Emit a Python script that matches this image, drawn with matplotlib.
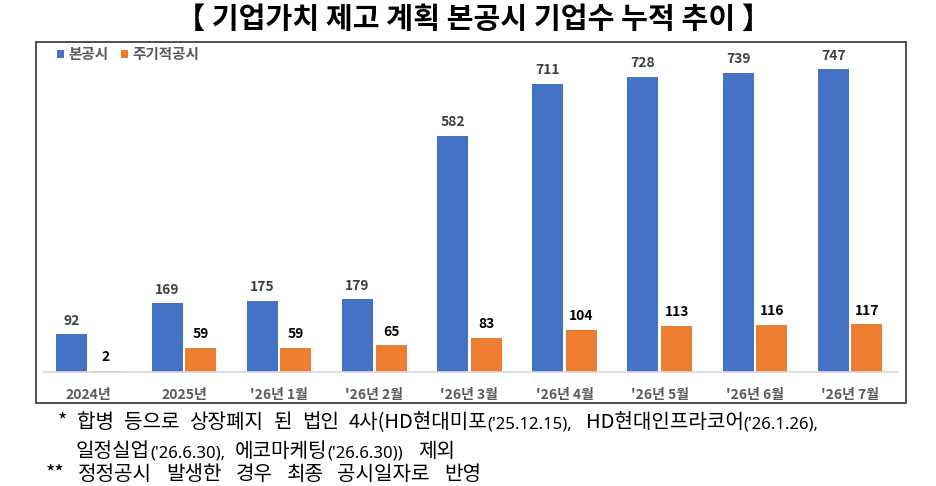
import matplotlib
matplotlib.use("Agg")
import matplotlib.pyplot as plt
from matplotlib.patches import Rectangle, Patch
import numpy as np

categories = ["2024년", "2025년", "'26년 1월", "'26년 2월", "'26년 3월",
              "'26년 4월", "'26년 5월", "'26년 6월", "'26년 7월"]
main_disclosure = [92, 169, 175, 179, 582, 711, 728, 739, 747]
periodic_disclosure = [2, 59, 59, 65, 83, 104, 113, 116, 117]
series_names = ["본공시", "주기적공시"]
title = "【 기업가치 제고 계획 본공시 기업수 누적 추이 】"

FONT = ["Noto Sans CJK KR", "DejaVu Sans"]
LATIN = ["Noto Sans", "Noto Sans CJK KR", "DejaVu Sans"]
plt.rcParams["font.family"] = FONT

W, H = 936, 486
fig = plt.figure(figsize=(W / 100, H / 100), dpi=100)
fig.patch.set_facecolor("white")

# border box
fig.patches.append(Rectangle((35.7 / W, 1 - 402.7 / H), (906 - 35.7) / W, (402.7 - 42) / H,
                             transform=fig.transFigure, fill=False,
                             edgecolor="#404040", lw=1.3, zorder=0))

ax = fig.add_axes([44 / W, 1 - 371.7 / H, (897.7 - 44) / W, (371.7 - 45) / H])
x = np.arange(len(categories))
bw = 0.325
off = 0.177
c_blue = "#4472C4"
c_orange = "#ED7D31"
ax.bar(x - off, main_disclosure, bw, color=c_blue, zorder=2)
ax.bar(x + off, periodic_disclosure, bw, color=c_orange, zorder=2)
ax.set_xlim(-0.47, 8.5)
ax.set_ylim(0, 807)
for s in ["top", "left", "right"]:
    ax.spines[s].set_visible(False)
ax.spines["bottom"].set_color("#D9D9D9")
ax.spines["bottom"].set_linewidth(1.2)
ax.set_yticks([])
ax.set_xticks(x)
ax.set_xticklabels(categories, fontsize=10, fontweight="bold", color="#595959")
ax.tick_params(axis="x", length=0, pad=12)

for xi, v in zip(x, main_disclosure):
    ax.annotate(str(v), (xi - off, v), xytext=(0, 7), textcoords="offset points",
                ha="center", va="baseline", fontsize=10, fontweight="bold", color="#404040")
for xi, v in zip(x, periodic_disclosure):
    ax.annotate(str(v), (xi + off, v), xytext=(0, 7), textcoords="offset points",
                ha="center", va="baseline", fontsize=10, fontweight="bold", color="#000000")

handles = [Patch(facecolor=c_blue), Patch(facecolor=c_orange)]
leg = fig.legend(handles, series_names, loc="center left",
                 bbox_to_anchor=(44 / W, 1 - 54 / H), ncol=2, frameon=False,
                 handlelength=0.45, handleheight=0.45, handletextpad=0.3, columnspacing=0.9,
                 prop={"family": FONT, "size": 10.5, "weight": "bold"})
for t in leg.get_texts():
    t.set_color("#595959")

fig.text(473 / W, 1 - 19 / H, title, ha="center", va="center",
         fontsize=21, fontweight="bold", color="black")

renderer = fig.canvas.get_renderer()
KS = 14.5   # Korean footnote size
PS = 12     # parenthetical size


def put(items, ybase, gap):
    """items: (x, text, small, extra_gap). x=None => after previous + gap*extra_gap."""
    xx = 0
    for xpos, txt, small, k in items:
        if xpos is not None:
            xx = xpos
        else:
            xx += gap * k
        t = fig.text(xx / W, 1 - ybase / H, txt, fontsize=PS if small else KS,
                     family=LATIN if small else FONT,
                     va="baseline", ha="left", color="black")
        xx = t.get_window_extent(renderer).x1


put([(58, "*", False, 0), (77, "합병", False, 0), (None, "등으로", False, 1),
     (None, "상장폐지", False, 1), (None, "된", False, 1), (None, "법인", False, 1),
     (None, "4사(HD현대미포", False, 1), (None, "('25.12.15),", True, 0),
     (None, "HD현대인프라코어", False, 1.3), (None, "('26.1.26),", True, 0)], 428, 10)
put([(76, "일정실업", False, 0), (None, "('26.6.30),", True, 0),
     (None, "에코마케팅", False, 1), (None, "('26.6.30))", True, 0),
     (None, "제외", False, 1.5)], 457, 10)
put([(46, "**", False, 0), (78, "정정공시", False, 0), (None, "발생한", False, 1),
     (None, "경우", False, 1), (None, "최종", False, 1),
     (None, "공시일자로", False, 1), (None, "반영", False, 1)], 480, 14)

fig.savefig("out.png", dpi=100)
